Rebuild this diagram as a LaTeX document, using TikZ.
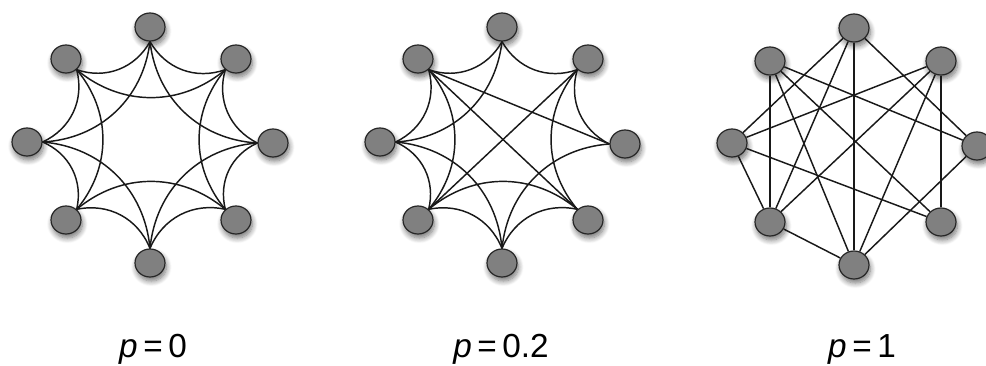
\documentclass[tikz,border=0pt]{standalone}
\usepackage{fontspec}
\setmainfont{Liberation Sans}
\usetikzlibrary{shapes.geometric,shadows.blur}

\begin{document}
\begin{tikzpicture}[
  x=0.75pt, y=-0.75pt,
  vtx/.style={ellipse,draw=black!85,line width=0.9pt,fill=black!50,minimum width=22.5pt,minimum height=21pt,inner sep=0pt,
    blur shadow={shadow xshift=1pt,shadow yshift=-3pt,shadow opacity=55,shadow blur radius=4pt,shadow blur steps=8}},
  link/.style={draw=black!90,line width=1.1pt},
  curved/.style={link,bend right=40},
  lbl/.style={anchor=base,font=\fontsize{25}{30}\selectfont}
]
  \useasboundingbox (0,0) rectangle (986,365);

  % p = 0 : ring lattice
  \node[vtx] (reg0) at (150,27)  {};
  \node[vtx] (reg1) at (236,59)  {};
  \node[vtx] (reg2) at (273,143) {};
  \node[vtx] (reg3) at (236,220) {};
  \node[vtx] (reg4) at (150,263) {};
  \node[vtx] (reg5) at (66,220)  {};
  \node[vtx] (reg6) at (27,142)  {};
  \node[vtx] (reg7) at (66,59)   {};

  \draw[curved](reg0.270) to (reg1.225); \draw[curved](reg0.270) to (reg2.180);
  \draw[curved](reg1.225) to (reg2.180); \draw[curved](reg1.225) to (reg3.135);
  \draw[curved](reg2.180) to (reg3.135); \draw[curved](reg2.180) to (reg4.90);
  \draw[curved](reg3.135) to (reg4.90);  \draw[curved](reg3.135) to (reg5.45);
  \draw[curved](reg4.90) to (reg5.45);   \draw[curved](reg4.90) to (reg6.0);
  \draw[curved](reg5.45) to (reg6.0);    \draw[curved](reg5.45) to (reg7.315);
  \draw[curved](reg6.0) to (reg7.315);   \draw[curved](reg6.0) to (reg0.270);
  \draw[curved](reg7.315) to (reg0.270); \draw[curved](reg7.315) to (reg1.225);

  % p = 0.2 : a few links rewired
  \node[vtx] (sw0) at (502,27)  {};
  \node[vtx] (sw1) at (588,59)  {};
  \node[vtx] (sw2) at (625,144) {};
  \node[vtx] (sw3) at (588,220) {};
  \node[vtx] (sw4) at (502,263) {};
  \node[vtx] (sw5) at (418,220) {};
  \node[vtx] (sw6) at (380,142) {};
  \node[vtx] (sw7) at (418,59)  {};

  \draw[curved](sw0.270) to (sw1.225);
  \draw[curved](sw1.225) to (sw2.180); \draw[curved](sw1.225) to (sw3.135);
  \draw[curved](sw2.180) to (sw4.90);
  \draw[curved](sw3.135) to (sw4.90);  \draw[curved](sw3.135) to (sw5.45);
  \draw[curved](sw4.90) to (sw5.45);   \draw[curved](sw4.90) to (sw6.0);
  \draw[curved](sw5.45) to (sw6.0);    \draw[curved](sw5.45) to (sw7.315);
  \draw[curved](sw6.0) to (sw7.315);   \draw[curved](sw6.0) to (sw0.270);
  \draw[curved](sw7.315) to (sw0.270);
  \draw[link](sw7.315)--(sw2.180); \draw[link](sw7.315)--(sw3.135);
  \draw[link](sw1.225)--(sw5.45);

  % p = 1 : random graph
  \node[vtx] (rnd0) at (854,28)  {};
  \node[vtx] (rnd1) at (941,61)  {};
  \node[vtx] (rnd2) at (977,146) {};
  \node[vtx] (rnd3) at (941,222) {};
  \node[vtx] (rnd4) at (854,265) {};
  \node[vtx] (rnd5) at (770,222) {};
  \node[vtx] (rnd6) at (732,143) {};
  \node[vtx] (rnd7) at (770,61)  {};

  \draw[link](rnd0)--(rnd6); \draw[link](rnd0)--(rnd5);
  \draw[link](rnd0)--(rnd4); \draw[link](rnd0)--(rnd2);
  \draw[link](rnd7)--(rnd5); \draw[link](rnd7)--(rnd4);
  \draw[link](rnd7)--(rnd3); \draw[link](rnd7)--(rnd2);
  \draw[link](rnd1)--(rnd6); \draw[link](rnd1)--(rnd5);
  \draw[link](rnd1)--(rnd4); \draw[link](rnd1)--(rnd3);
  \draw[link](rnd6)--(rnd5); \draw[link](rnd6)--(rnd3);
  \draw[link](rnd2)--(rnd4); \draw[link](rnd5)--(rnd4);

  \node[lbl] (lblreg) at (153,357) {\itshape p\/\upshape\,=\,0};
  \node[lbl] (lblsw)  at (501,357) {\itshape p\/\upshape\,=\,0.2};
  \node[lbl] (lblrnd) at (862,357) {\itshape p\/\upshape\,=\,1};
\end{tikzpicture}
\end{document}
